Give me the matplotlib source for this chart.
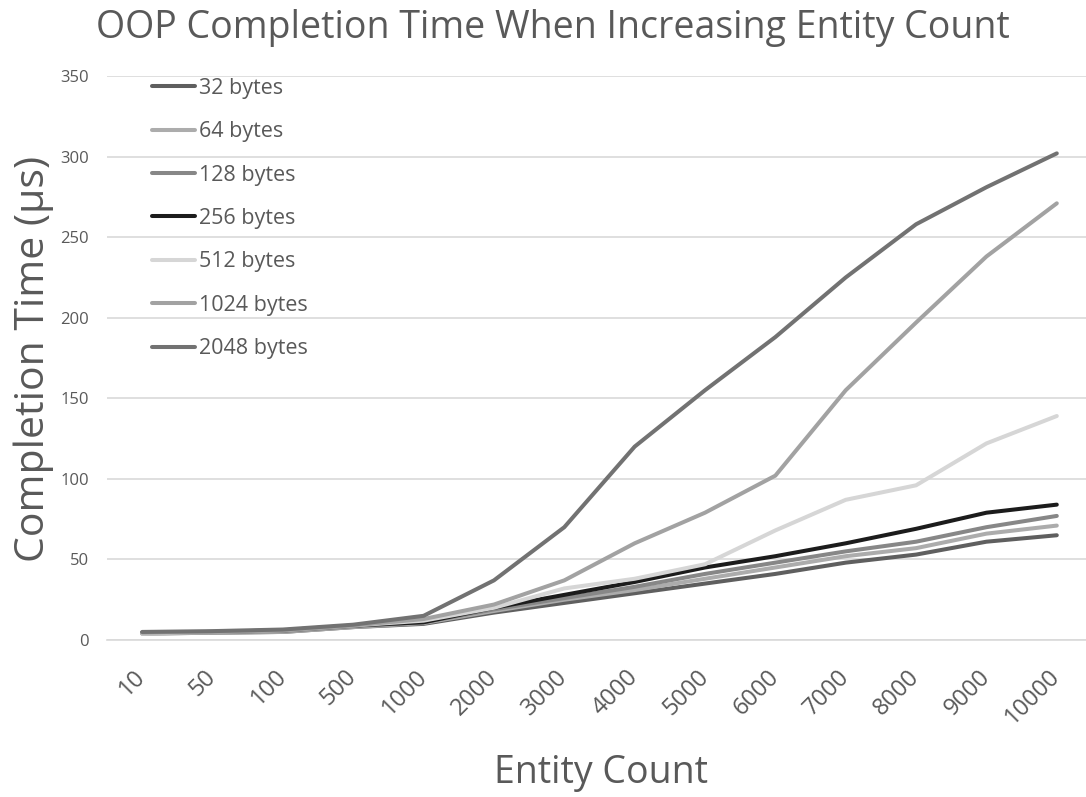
import matplotlib
matplotlib.use("Agg")
import matplotlib.pyplot as plt
import numpy as np

plt.rcParams["font.family"] = ["Open Sans", "DejaVu Sans"]

# Entity counts along the category axis
entity_counts = ["10", "50", "100", "500", "1000", "2000", "3000", "4000",
                 "5000", "6000", "7000", "8000", "9000", "10000"]

# Completion time in microseconds for each component size
t_32 = [4, 4.5, 5, 8, 10, 17, 23, 29, 35, 41, 48, 53, 61, 65]
t_64 = [4, 4.5, 5, 8, 10.5, 18, 25, 31, 38, 45, 52, 57, 66, 71]
t_128 = [4.5, 5, 5.5, 8.5, 11, 19, 26, 33, 41, 48, 55, 61, 70, 77]
t_256 = [4.5, 5, 6, 9, 11, 20, 28, 36, 45, 52, 60, 69, 79, 84]
t_512 = [4, 5, 6, 9, 12, 20, 32, 38, 47, 68, 87, 96, 122, 139]
t_1024 = [4.5, 5, 6, 9, 13, 22, 37, 60, 79, 102, 155, 197, 238, 271]
t_2048 = [5, 5.5, 6.5, 9.5, 15, 37, 70, 120, 155, 188, 225, 258, 281, 302]

series = [
    ("32 bytes", t_32, "#5f5f5f"),
    ("64 bytes", t_64, "#acacac"),
    ("128 bytes", t_128, "#878787"),
    ("256 bytes", t_256, "#1c1c1c"),
    ("512 bytes", t_512, "#d6d6d6"),
    ("1024 bytes", t_1024, "#a2a2a2"),
    ("2048 bytes", t_2048, "#727272"),
]

text_color = "#595959"

fig = plt.figure(figsize=(10.86, 7.97), dpi=100)
ax = fig.add_axes([0.0985, 0.197, 0.907, 0.7076])

x = np.arange(len(entity_counts))
for label, vals, color in series:
    ax.plot(x, vals, color=color, linewidth=2.9, label=label,
            solid_capstyle="round", solid_joinstyle="round")

ax.set_xlim(-0.5, len(entity_counts) - 0.5)
ax.set_ylim(0, 350)
ax.set_yticks(np.arange(0, 351, 50))
ax.yaxis.grid(True, color="#d9d9d9", linewidth=1.2)
ax.set_axisbelow(True)
for side in ["top", "right", "left"]:
    ax.spines[side].set_visible(False)
ax.spines["bottom"].set_color("#d9d9d9")
ax.spines["bottom"].set_linewidth(1.2)
ax.tick_params(axis="y", length=0, pad=13, labelsize=12, labelcolor=text_color)
ax.tick_params(axis="x", length=0, pad=24, labelsize=17, labelcolor=text_color)

ax.set_xticks(x)
ax.set_xticklabels(entity_counts, rotation=45, ha="right", va="center",
                   rotation_mode="anchor")

# Titles placed in figure coordinates
fig.text(0.5087, 0.9523, "OOP Completion Time When Increasing Entity Count",
         fontsize=27, color=text_color, ha="center", va="baseline")
fig.text(0.5534, 0.0176, "Entity Count", fontsize=27, color=text_color,
         ha="center", va="baseline")
fig.text(0.031, 0.5496, "Completion Time (µs)", fontsize=29.5, color=text_color,
         ha="center", va="center", rotation=90)

ax.legend(loc="upper left", bbox_to_anchor=(0.0457, 0.997), frameon=False,
          fontsize=15.5, labelcolor=text_color, handlelength=2.0,
          handletextpad=0.2, labelspacing=1.04, borderaxespad=0.0,
          borderpad=0.0)

fig.savefig("out.png", dpi=100)
